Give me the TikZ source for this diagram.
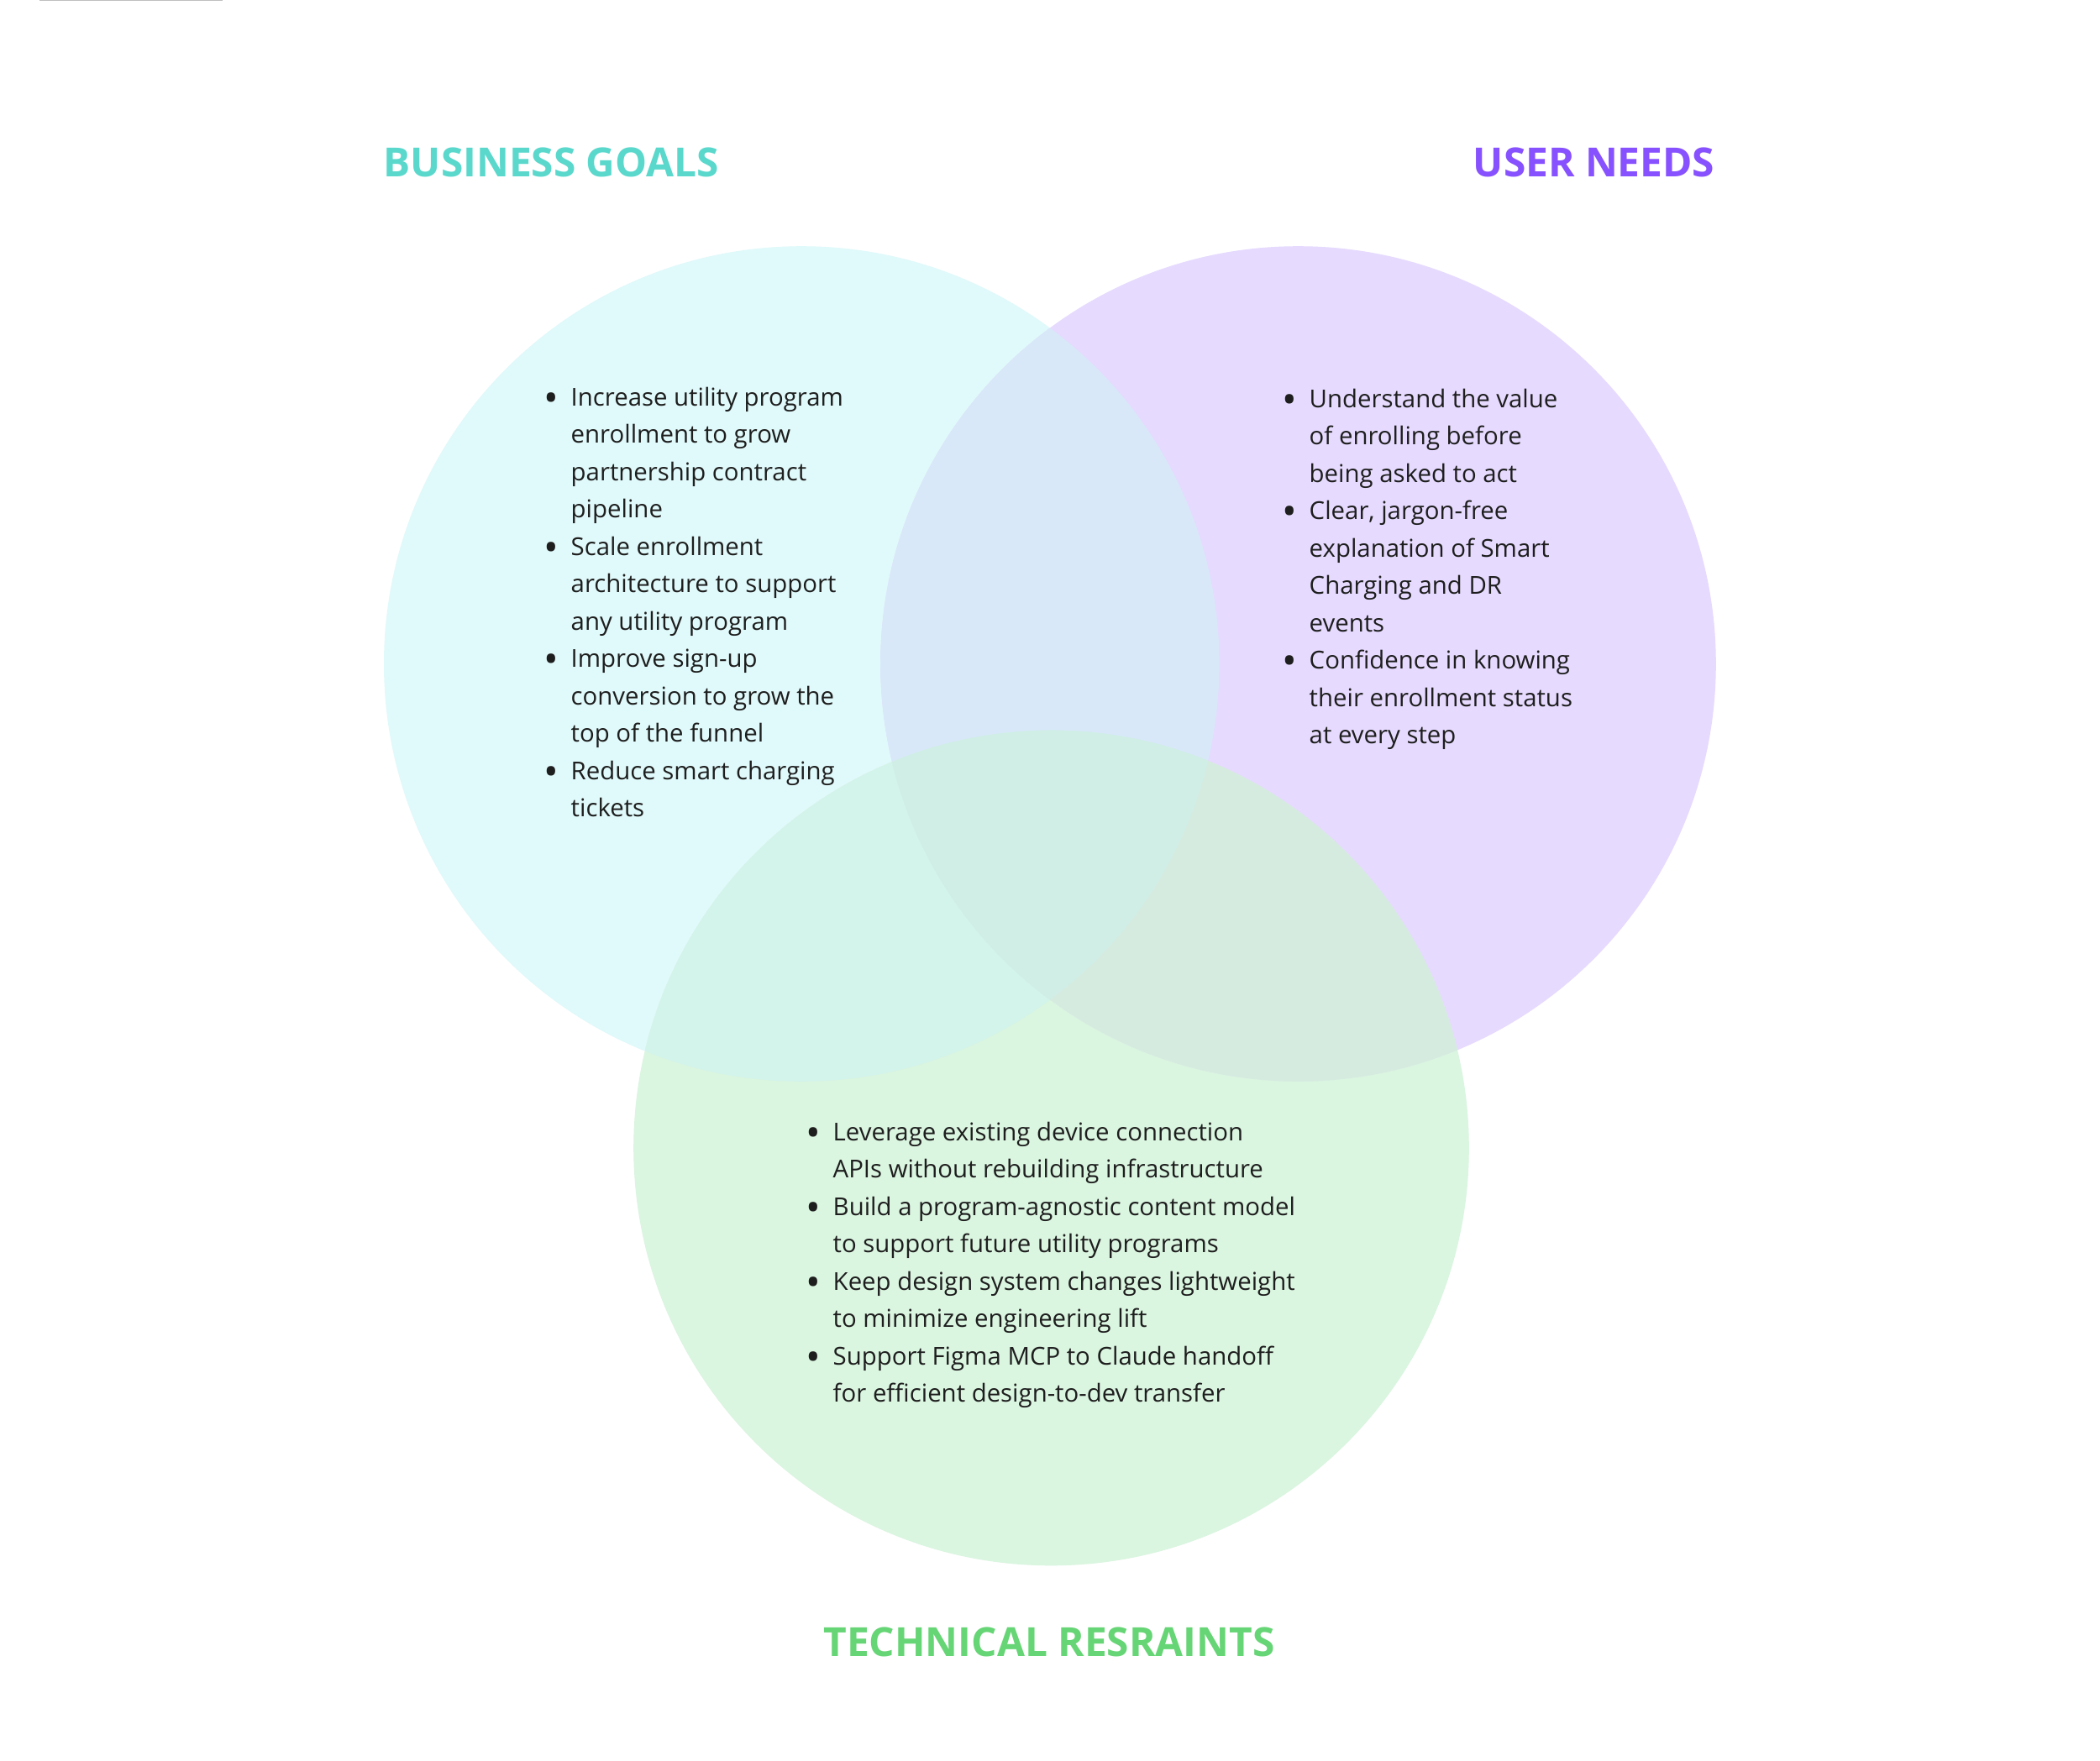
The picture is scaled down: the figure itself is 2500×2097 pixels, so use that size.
\documentclass[tikz,border=0pt]{standalone}
\usepackage{fontspec}
\usepackage{graphicx}
\setmainfont{Open Sans}
\definecolor{cL}{HTML}{E0F9FA}
\definecolor{cR}{HTML}{E6DAFE}
\definecolor{cB}{HTML}{DAF5E0}
\definecolor{cLR}{HTML}{D8E8F9}
\definecolor{cLB}{HTML}{D3F4EB}
\definecolor{cRB}{HTML}{D6EBE0}
\definecolor{cLRB}{HTML}{D0EEE6}
\definecolor{tL}{HTML}{5AD8CC}
\definecolor{tR}{HTML}{8751FF}
\definecolor{tB}{HTML}{66D575}
\definecolor{ink}{HTML}{1E1E1E}
\newcommand{\bl}{\makebox[0.30cm][l]{\hspace{-0.02cm}\raisebox{-0.25em}{\scalebox{1.6}{\textbullet}}}}
\begin{document}
\begin{tikzpicture}[x=0.01cm,y=-0.01cm,
  title/.style={inner sep=0pt,font=\fontsize{13.6}{16}\selectfont\bfseries},
  list/.style={inner sep=0pt,anchor=base west,text=ink,font=\fontsize{8.35}{12.66}\selectfont}]
\useasboundingbox (0,0) rectangle (2500,2097);
\fill[white] (0,0) rectangle (2500,2097);
\fill[black!25] (47,0) rectangle (265,1.5);
\coordinate (L) at (954.3,790.5);
\coordinate (R) at (1545.5,790.5);
\coordinate (B) at (1251.5,1367);
\fill[cL] (L) circle[radius=4.97cm];
\fill[cR] (R) circle[radius=4.97cm];
\fill[cB] (B) circle[radius=4.97cm];
\begin{scope}
  \clip (L) circle[radius=4.97cm];
  \fill[cLR] (R) circle[radius=4.97cm];
  \fill[cLB] (B) circle[radius=4.97cm];
  \clip (R) circle[radius=4.97cm];
  \fill[cLRB] (B) circle[radius=4.97cm];
\end{scope}
\begin{scope}
  \clip (R) circle[radius=4.97cm];
  \clip (B) circle[radius=4.97cm];
  \fill[cRB] (L) circle[radius=4.97cm] [even odd rule] (-100,-100) rectangle (2600,2200);
\end{scope}
\begin{scope}
  \clip (R) circle[radius=4.97cm];
  \clip (B) circle[radius=4.97cm];
  \clip (L) circle[radius=4.97cm];
  \fill[cLRB] (0,0) rectangle (2500,2097);
\end{scope}
\node[title,text=tL,anchor=base west] (tbus) at (456,210) {BUSINESS GOALS};
\node[title,text=tR,anchor=base east] (tuser) at (2042,210) {USER NEEDS};
\node[title,text=tB,anchor=base] (ttech) at (1249,1972) {TECHNICAL RESRAINTS};
\node[list] (lbus) at (649,483) {\begin{tabular}[t]{@{}l@{}l@{}}
\bl & Increase utility program\\
 & enrollment to grow\\
 & partnership contract\\
 & pipeline\\
\bl & Scale enrollment\\
 & architecture to support\\
 & any utility program\\
\bl & Improve sign-up\\
 & conversion to grow the\\
 & top of the funnel\\
\bl & Reduce smart charging\\
 & tickets
\end{tabular}};
\node[list] (luser) at (1528,485) {\begin{tabular}[t]{@{}l@{}l@{}}
\bl & Understand the value\\
 & of enrolling before\\
 & being asked to act\\
\bl & Clear, jargon-free\\
 & explanation of Smart\\
 & Charging and DR\\
 & events\\
\bl & Confidence in knowing\\
 & their enrollment status\\
 & at every step
\end{tabular}};
\node[list] (ltech) at (961,1358) {\begin{tabular}[t]{@{}l@{}l@{}}
\bl & Leverage existing device connection\\
 & APIs without rebuilding infrastructure\\
\bl & Build a program-agnostic content model\\
 & to support future utility programs\\
\bl & Keep design system changes lightweight\\
 & to minimize engineering lift\\
\bl & Support Figma MCP to Claude handoff\\
 & for efficient design-to-dev transfer
\end{tabular}};
\end{tikzpicture}
\end{document}
